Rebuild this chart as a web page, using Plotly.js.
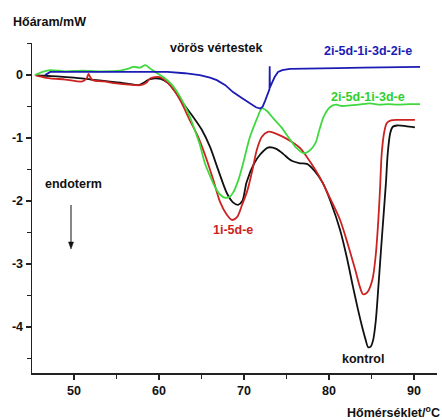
<!DOCTYPE html>
<html>
<head>
<meta charset="utf-8">
<script src="https://cdn.plot.ly/plotly-3.0.1.min.js"></script>
<style>html,body{margin:0;padding:0;background:#fff;}#chart{width:442px;height:420px;}</style>
</head>
<body>
<div id="chart"></div>
<script>
// kontrol (black)
const kontrolT = [45.5,46.5,48,50,52,54,56,57,57.6,58.2,58.8,59.5,60.2,61,62,63,64,65,66,67,68,68.7,69.3,69.8,70.3,71.2,71.9,72.8,73.8,74.6,75.6,76.6,77.4,78.3,79.3,80.3,81.3,82.1,82.8,83.4,83.9,84.3,84.6,84.9,85.2,85.5,85.8,86.1,86.4,86.7,86.9,87.2,87.5,88,89,90.1];
const kontrolY = [0,-0.01,-0.02,-0.04,-0.07,-0.1,-0.13,-0.15,-0.16,-0.12,-0.07,-0.05,-0.06,-0.12,-0.28,-0.48,-0.66,-0.86,-1.14,-1.52,-1.88,-2.02,-2.06,-2.0,-1.7,-1.4,-1.26,-1.15,-1.17,-1.25,-1.36,-1.40,-1.41,-1.52,-1.72,-2.05,-2.46,-2.9,-3.35,-3.72,-4.0,-4.2,-4.32,-4.31,-4.2,-3.9,-3.37,-2.8,-2.25,-1.7,-1.25,-0.92,-0.82,-0.8,-0.81,-0.83];

// 1i-5d-e (red)
const redT = [45.4,46.3,47.2,49,51,51.5,51.7,51.9,52.2,53.5,55,56.5,57.8,58.5,59,60.1,61.3,62.5,63.6,64.6,65.5,66.4,67.2,68,68.6,69.2,69.8,70.4,71.0,71.5,72.1,72.8,73.6,74.6,75.6,76.6,77.8,78.9,80.1,81.3,82.2,83.1,83.6,84.0,84.5,85.1,85.5,85.8,86.0,86.2,86.5,86.8,87.3,88,89,90.1];
const redY = [0,-0.03,-0.05,-0.07,-0.1,-0.05,0.02,-0.03,-0.08,-0.1,-0.13,-0.15,-0.16,-0.12,-0.05,-0.03,-0.16,-0.4,-0.71,-0.98,-1.3,-1.67,-2.02,-2.22,-2.3,-2.25,-2.05,-1.83,-1.5,-1.19,-0.98,-0.9,-0.92,-0.98,-1.06,-1.16,-1.38,-1.62,-1.95,-2.3,-2.68,-3.1,-3.35,-3.48,-3.45,-3.25,-2.85,-2.3,-1.8,-1.24,-0.9,-0.76,-0.72,-0.71,-0.71,-0.71];

// 2i-5d-1i-3d-e (green)
const greenT = [45.4,46.3,47.2,49,51,53,55.4,56.3,57,57.8,58.4,58.8,59.2,59.8,60.5,61.5,62.5,63.5,64.2,64.8,65.4,66.0,66.6,67.2,67.8,68.3,68.7,69.3,69.9,70.3,70.7,71.0,71.5,72.1,72.7,73.4,74.4,75.4,76.2,77.0,77.7,78.4,78.9,79.4,80.1,80.8,81.5,82.5,83.5,84.8,86,87,88,89.5,90.7];
const greenY = [0,0.05,0.08,0.06,0.07,0.06,0.07,0.1,0.13,0.12,0.16,0.12,0.08,0.03,-0.03,-0.15,-0.35,-0.62,-0.87,-1.1,-1.4,-1.6,-1.78,-1.9,-1.95,-1.93,-1.87,-1.68,-1.4,-1.18,-0.98,-0.87,-0.7,-0.53,-0.57,-0.68,-0.83,-1.02,-1.16,-1.24,-1.2,-1.08,-0.85,-0.65,-0.51,-0.47,-0.49,-0.48,-0.47,-0.45,-0.47,-0.46,-0.47,-0.46,-0.46];

// 2i-5d-1i-3d-2i-e (blue)
const blueT = [46.6,47.2,50,53,56,58.9,61,63,64.8,66,66.8,67.8,68.7,69.7,70.7,71.4,71.9,72.2,72.5,72.8,73.0,73.02,73.04,73.3,73.6,74.0,74.5,75.4,78,81,84,87,90.7];
const blueY = [0,0.05,0.05,0.05,0.06,0.06,0.05,0.03,0.0,-0.04,-0.08,-0.16,-0.27,-0.36,-0.45,-0.51,-0.53,-0.5,-0.4,-0.3,-0.22,0.14,-0.2,-0.12,-0.03,0.05,0.08,0.1,0.1,0.11,0.12,0.12,0.13];

const yTickVals = [-4,-3,-2,-1,0];
const yTickText = ['-4','-3','-2','-1','0'];
const xTickVals = [50,60,70,80,90];
const xTickText = ['50','60','70','80','90'];

const FONT = 'Liberation Sans, Arial, Helvetica, sans-serif';

const traces = [
  {x: kontrolT, y: kontrolY, name: 'kontrol', line: {color: '#111111', width: 1.8, shape: 'spline', smoothing: 0.8}},
  {x: redT, y: redY, name: '1i-5d-e', line: {color: '#cc2222', width: 1.8, shape: 'spline', smoothing: 0.8}},
  {x: greenT, y: greenY, name: '2i-5d-1i-3d-e', line: {color: '#3fd83f', width: 1.8, shape: 'spline', smoothing: 0.8}},
  {x: blueT, y: blueY, name: '2i-5d-1i-3d-2i-e', line: {color: '#1c1cb4', width: 1.8, shape: 'linear'}}
].map(t => Object.assign({type: 'scatter', mode: 'lines', hoverinfo: 'skip'}, t));

function px2x(px){ return (px - 32) / 405; }
function py2y(py){ return (373 - py) / 330; }
function label(text, cx, cy, color, anchor){
  return {text: text, xref: 'paper', yref: 'paper', x: px2x(cx), y: py2y(cy),
    xanchor: anchor || 'center', yanchor: 'middle', showarrow: false,
    font: {family: FONT, size: 12.5, color: color, weight: 'bold'}};
}

// "endoterm" arrow drawn as shapes (paper coordinates)
const arrowShapes = [
  {type: 'line', xref: 'paper', yref: 'paper', x0: px2x(71), x1: px2x(71), y0: py2y(205), y1: py2y(243),
   line: {color: '#111', width: 1}},
  {type: 'path', xref: 'paper', yref: 'paper',
   path: 'M ' + px2x(68.5) + ' ' + py2y(242) + ' L ' + px2x(73.5) + ' ' + py2y(242) + ' L ' + px2x(71) + ' ' + py2y(249) + ' Z',
   fillcolor: '#111', line: {color: '#111', width: 0.5}}
];

const layout = {
  width: 442, height: 420,
  margin: {l: 32, r: 5, t: 43, b: 47},
  paper_bgcolor: '#ffffff', plot_bgcolor: '#ffffff',
  showlegend: false,
  font: {family: FONT, color: '#111'},
  xaxis: {
    range: [45.06, 92.7], showgrid: false, zeroline: false,
    showline: true, linecolor: '#222', linewidth: 1.5,
    tickmode: 'array', tickvals: xTickVals, ticktext: xTickText,
    ticks: 'outside', ticklen: 5, tickwidth: 1.3, tickcolor: '#222',
    tickfont: {family: FONT, size: 12.5, color: '#111', weight: 'bold'},
    minor: {dtick: 5, tick0: 45, ticks: 'outside', ticklen: 4, tickwidth: 1.2, tickcolor: '#222', showgrid: false}
  },
  yaxis: {
    range: [-4.73, 0.51], showgrid: false, zeroline: false,
    showline: true, linecolor: '#222', linewidth: 1.5,
    tickmode: 'array', tickvals: yTickVals, ticktext: yTickText,
    ticks: 'outside', ticklen: 5, tickwidth: 1.3, tickcolor: '#222',
    tickfont: {family: FONT, size: 12.5, color: '#111', weight: 'bold'},
    minor: {dtick: 0.5, tick0: 0, ticks: 'outside', ticklen: 4, tickwidth: 1.2, tickcolor: '#222', showgrid: false}
  },
  shapes: arrowShapes,
  annotations: [
    label('Hőáram/mW', 11, 22, '#111', 'left'),
    label('vörös vértestek', 216, 48, '#111'),
    label('2i-5d-1i-3d-2i-e', 368, 51, '#1c1cb4'),
    label('2i-5d-1i-3d-e', 368, 97, '#2fcf2f'),
    label('endoterm', 73, 184, '#111'),
    label('1i-5d-e', 233, 230, '#cc2222'),
    label('kontrol', 363, 359, '#111'),
    label('Hőmérséklet/<sup>o</sup>C', 442, 412, '#111', 'right')
  ]
};

Plotly.newPlot('chart', traces, layout, {displayModeBar: false, staticPlot: true});
</script>
</body>
</html>
